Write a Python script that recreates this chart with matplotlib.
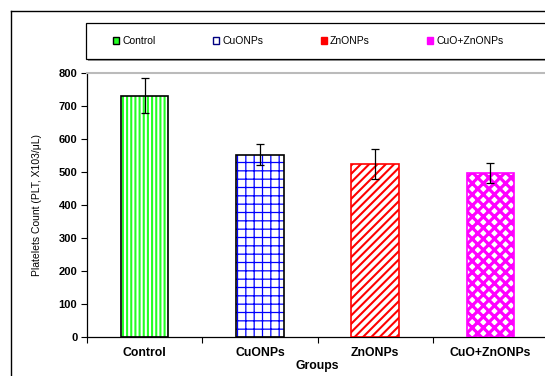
import matplotlib
matplotlib.use("Agg")
import matplotlib.pyplot as plt
from matplotlib.patches import Rectangle
from matplotlib.lines import Line2D
import numpy as np

plt.rcParams['font.family'] = ['Liberation Sans', 'DejaVu Sans']

groups = ['Control', 'CuONPs', 'ZnONPs', 'CuO+ZnONPs']
plt_count = [731, 553, 524, 496]
plt_err = [53, 33, 46, 30]

# hatch colour, hatch pattern, hatch width, edge colour, face colour
styles = [
    ('#22FF22', '||||', 1.5, 'black', 'white'),
    ('#0000FF', '++', 0.9, 'black', 'white'),
    ('#FF0000', '////', 1.5, '#FF0000', 'white'),
    ('#FF00FF', 'xxx', 2.3, '#FF00FF', 'white'),
]
# legend swatch face / edge
swatch_face = ['#22FF22', 'white', '#FF0000', '#FF00FF']
swatch_edge = ['black', '#000080', '#FF0000', '#FF00FF']

fig = plt.figure(figsize=(5.45, 3.76), dpi=100)
ax = fig.add_axes([87/545, 1-337/376, 461/545, 264/376])

x = np.arange(len(groups))
w = 0.41
handles = []
for i in range(len(groups)):
    hc, hp, hw, ec, fc = styles[i]
    b = ax.bar(x[i], plt_count[i], w, color=fc, edgecolor=hc, hatch=hp, linewidth=0, zorder=2)
    for p in b:
        if hasattr(p, 'set_hatch_linewidth'):
            p.set_hatch_linewidth(hw)
    ax.bar(x[i], plt_count[i], w, fill=False, edgecolor=ec, linewidth=1.2, zorder=3)
    handles.append(Rectangle((0, 0), 1, 1, facecolor=swatch_face[i], edgecolor=swatch_edge[i],
                             linewidth=1.0))

ax.errorbar(x, plt_count, yerr=plt_err, fmt='none', ecolor='black', elinewidth=0.9,
            capsize=3, capthick=0.9, zorder=4)

ax.set_xlim(-0.5, 3.5)
ax.set_ylim(0, 800)
ax.set_yticks(np.arange(0, 801, 100))
ax.set_xticks(np.arange(-0.5, 3.6, 1))
ax.set_xticklabels([])
ax.set_xticks(x, minor=True)
ax.set_xticklabels(groups, minor=True, fontsize=8.8, fontweight='bold')
ax.tick_params(axis='x', which='minor', length=0, pad=7)
ax.tick_params(axis='x', which='major', length=4, width=0.8, direction='out')
ax.tick_params(axis='y', length=4, width=0.8, pad=3, labelsize=8)
for t in ax.get_yticklabels():
    t.set_fontweight('bold')

ax.spines['right'].set_visible(False)
ax.spines['top'].set_color('#BBBBBB')
ax.spines['top'].set_linewidth(1.5)
ax.spines['left'].set_linewidth(0.9)
ax.spines['bottom'].set_linewidth(0.9)

ax.set_ylabel('Platelets Count (PLT, X103/μL)', fontsize=7.5, labelpad=12)
ax.set_xlabel('Groups', fontsize=8.8, fontweight='bold', labelpad=1)

# outer frame
fig.add_artist(Line2D([11/545, 11/545], [1-11/376, 0], color='black', lw=1.0, transform=fig.transFigure))
fig.add_artist(Line2D([11/545, 1], [1-11/376, 1-11/376], color='black', lw=1.0, transform=fig.transFigure))

# legend box with shadow
fig.add_artist(Rectangle((88/545, 1-61/376), 470/545, 36/376, facecolor='#999999',
                         edgecolor='none', transform=fig.transFigure, zorder=0))
fig.add_artist(Rectangle((86/545, 1-59/376), 470/545, 36/376, facecolor='white',
                         edgecolor='black', lw=0.9, transform=fig.transFigure, zorder=1))
leg = fig.legend(handles, groups, loc='center left', ncol=4, frameon=False,
                 bbox_to_anchor=(113/545, 1-41/376), fontsize=7.5, borderpad=0,
                 borderaxespad=0, handlelength=0.6, handleheight=0.6, handletextpad=0.3,
                 columnspacing=5.5)
leg.set_zorder(2)

fig.savefig('out.png', dpi=100)
